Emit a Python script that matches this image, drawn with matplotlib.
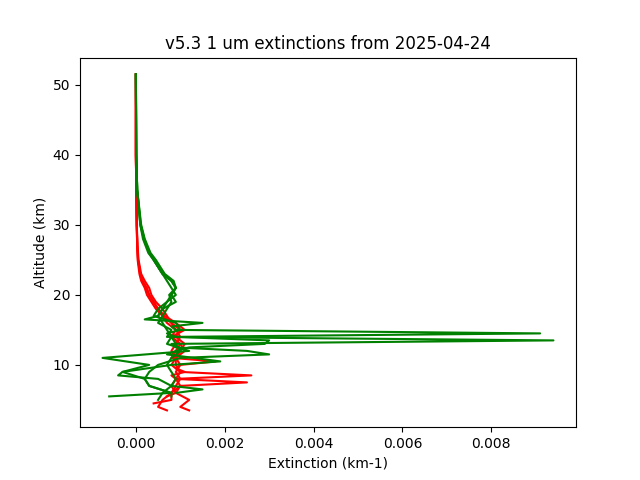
import matplotlib
matplotlib.use("Agg")
import matplotlib.pyplot as plt

title = "v5.3 1 um extinctions from 2025-04-24"

red_alt = [
    [51.5, 40, 35, 30, 27, 25, 23, 22, 21, 20, 19, 18, 17, 16, 15, 14, 13, 12, 11, 10.5, 10, 9.5, 9, 8.5, 8, 7, 6, 5, 4.5],
    [51.5, 40, 35, 30, 27, 25, 23, 22, 21, 20, 19, 18, 17, 16, 15, 14, 13, 12, 11, 10, 9, 8.5, 8, 7.5, 7, 6, 5, 4, 3.5],
    [51.5, 40, 35, 30, 27, 25, 23, 22, 21, 20, 19, 18, 17, 16, 15, 14, 13, 12, 11, 10, 9, 8, 7, 6, 5, 4, 3.5],
    [51.5, 40, 35, 30, 27, 25, 23, 22, 21, 20, 19, 18, 17, 16, 15, 14, 13, 12, 11, 10, 9, 8, 7, 6, 5.5],
]
red_ext = [
    [0, 0, 0.00001, 0.00002, 0.00003, 0.00005, 0.0001, 0.00015, 0.00025, 0.0003, 0.0004, 0.0005, 0.0006, 0.0007, 0.0009, 0.0008, 0.0010, 0.0009, 0.0008, 0.0018, 0.0010, 0.0009, 0.0011, 0.0008, 0.0009, 0.0010, 0.0008, 0.0008, 0.0004],
    [0, 0, 0.00001, 0.00002, 0.00004, 0.00006, 0.00012, 0.0002, 0.0003, 0.00035, 0.00045, 0.0006, 0.0007, 0.0008, 0.0010, 0.0009, 0.0011, 0.0010, 0.0009, 0.0009, 0.0010, 0.0026, 0.0009, 0.0025, 0.0010, 0.0009, 0.0012, 0.0010, 0.0012],
    [0, 0, 0.00001, 0.00002, 0.00003, 0.00004, 0.00008, 0.00012, 0.0002, 0.00025, 0.00035, 0.00045, 0.0006, 0.0008, 0.0009, 0.0010, 0.0009, 0.0008, 0.0009, 0.0010, 0.0009, 0.0010, 0.0009, 0.0008, 0.0006, 0.0005, 0.0007],
    [0, 0, 0.00001, 0.00002, 0.00003, 0.00005, 0.0001, 0.00015, 0.00022, 0.0003, 0.0004, 0.0005, 0.00065, 0.0009, 0.0011, 0.0008, 0.0010, 0.0011, 0.0009, 0.0008, 0.0010, 0.0009, 0.0008, 0.0009, 0.0007],
]

green_alt = [
    [51.5, 40, 35, 30, 28, 26, 25, 24, 23, 22, 21, 20, 19, 18, 17, 16.5, 16, 15.5, 15, 14.5, 14, 13, 12, 11, 10, 9, 8, 7, 6, 5],
    [51.5, 40, 35, 30, 28, 26, 25, 24, 23, 22, 21, 20, 19, 18, 17, 16, 15, 14, 13.5, 13, 12.5, 12, 11.5, 11, 10, 9, 8, 7, 6, 5.5],
    [51.5, 40, 35, 30, 28, 26, 25, 24, 23, 22, 21, 20, 19, 18, 17, 16, 15, 14.5, 14, 13.5, 13, 12.5, 12, 11.5, 10.5, 10, 9, 8.5, 8, 7, 6.5, 6],
    [51.5, 40, 35, 30, 28, 26, 25, 24, 23, 22, 21, 20, 19, 18, 17, 16, 15, 14, 13, 12, 11, 10, 9, 8, 7, 6, 5.5],
]
green_ext = [
    [0, 0.00001, 0.00003, 0.0001, 0.00018, 0.0003, 0.0004, 0.0005, 0.0006, 0.0008, 0.0009, 0.0008, 0.0009, 0.0006, 0.0005, 0.0002, 0.0015, 0.0008, 0.0009, 0.0091, 0.0008, 0.0009, 0.0010, 0.0008, 0.0007, 0.0008, 0.0009, 0.0008, 0.0006, 0.0005],
    [0, 0.00001, 0.00003, 0.00012, 0.0002, 0.00033, 0.00045, 0.00055, 0.00065, 0.00085, 0.0009, 0.00075, 0.0008, 0.0007, 0.0006, 0.0005, 0.0008, 0.0007, 0.0094, 0.0008, 0.0009, 0.0025, 0.0030, 0.0010, 0.0005, 0.0003, 0.0002, 0.0003, 0.0008, 0.0008],
    [0, 0.00001, 0.00003, 0.0001, 0.00016, 0.00028, 0.0004, 0.0005, 0.0006, 0.0007, 0.0008, 0.0009, 0.0007, 0.0005, 0.0004, 0.0009, 0.0010, 0.0007, 0.0009, 0.0030, 0.0029, 0.0012, 0.0009, 0.0007, 0.0019, 0.0008, -0.0003, -0.0004, 0.0005, 0.0008, 0.0015, 0.0009],
    [0, 0.00001, 0.00003, 0.00011, 0.00019, 0.0003, 0.0004, 0.0005, 0.0006, 0.0008, 0.0009, 0.0008, 0.0007, 0.0006, 0.0005, 0.0006, 0.0007, 0.0008, 0.0007, 0.0012, -0.00075, 0.0003, -0.0003, 0.0002, 0.0003, 0.0008, -0.0006],
]

fig, ax = plt.subplots(figsize=(6.4, 4.8), dpi=100)
for a, e in zip(red_alt, red_ext):
    ax.plot(e, a, color="red")
for a, e in zip(green_alt, green_ext):
    ax.plot(e, a, color="green")
ax.set_title(title)
ax.set_xlabel("Extinction (km-1)")
ax.set_ylabel("Altitude (km)")
fig.savefig("out.png")
